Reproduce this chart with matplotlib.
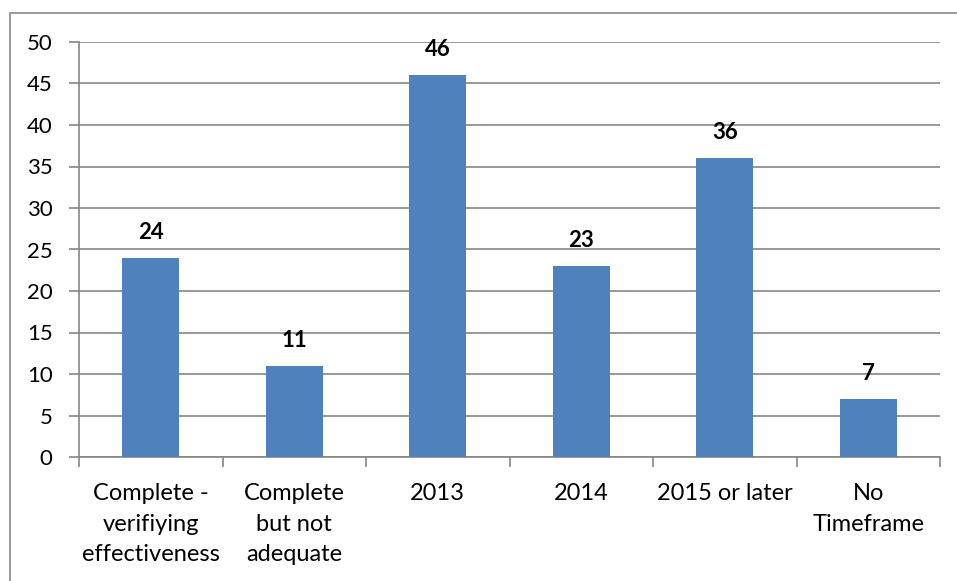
import matplotlib.pyplot as plt
import matplotlib.patches as mpatches

categories = ["Complete -\nverifiying\neffectiveness", "Complete\nbut not\nadequate",
              "2013", "2014", "2015 or later", "No\nTimeframe"]
values = [24, 11, 46, 23, 36, 7]
yticks = [0, 5, 10, 15, 20, 25, 30, 35, 40, 45, 50]

plt.rcParams['font.family'] = ['Lato', 'DejaVu Sans']

fig = plt.figure(figsize=(9.57, 5.81), dpi=100)
W, H = 957, 581
ax = fig.add_axes([79 / W, 1 - 457 / H, (940 - 79) / W, (457 - 42) / H])

# outer chart border (only left and top visible in reference)
fig.add_artist(mpatches.Rectangle((10 / W, -0.1), 1.2, 1 - 13 / H + 0.1,
                                  transform=fig.transFigure, fill=False,
                                  edgecolor='#878787', linewidth=1.2))

grid_c = '#868686'
x = range(len(categories))
ax.bar(x, values, width=0.4, color='#4F81BD', zorder=3)
for i, v in enumerate(values):
    ax.text(i, v + 2.3, str(v), ha='center', va='baseline', fontsize=16, fontweight='bold')

ax.set_xlim(-0.5, len(categories) - 0.5)
ax.set_ylim(0, 50)
ax.set_yticks(yticks)
ax.yaxis.grid(True, color=grid_c, linewidth=1.2, zorder=0)
ax.set_axisbelow(True)

ax.set_xticks([i - 0.5 for i in range(len(categories) + 1)], minor=False)
ax.set_xticklabels([])
ax.set_xticks(list(x), minor=True)
ax.set_xticklabels(categories, minor=True, fontsize=17, linespacing=1.55)
ax.tick_params(axis='x', which='minor', length=0, pad=19)
ax.tick_params(axis='x', which='major', length=7, color=grid_c, width=1.2)
ax.tick_params(axis='y', length=7, color=grid_c, width=1.2, labelsize=16, pad=12)

for s in ['top', 'right']:
    ax.spines[s].set_visible(False)
for s in ['left', 'bottom']:
    ax.spines[s].set_color(grid_c)
    ax.spines[s].set_linewidth(1.2)

fig.savefig('out.png', dpi=100)
